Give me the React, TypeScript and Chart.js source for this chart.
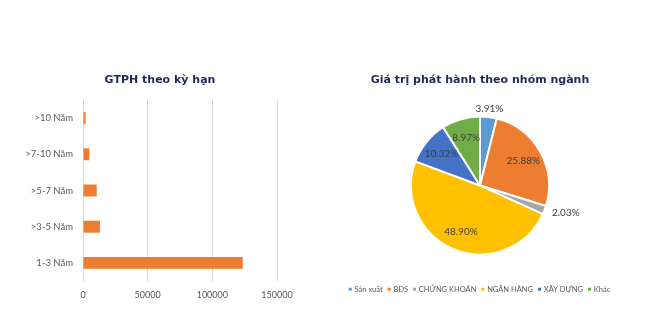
import React, { useEffect, useRef } from "react";
import { Chart, registerables } from "chart.js";
Chart.register(...registerables);

const termCategories = [">10 Năm", ">7-10 Năm", ">5-7 Năm", ">3-5 Năm", "1-3 Năm"];
const termValues = [2000, 4900, 10600, 13100, 123500];
const xMax = 150000;
const xStep = 50000;

const sectorLabels = ["Sản xuất", "BĐS", "CHỨNG KHOÁN", "NGÂN HÀNG", "XÂY DỰNG", "Khác"];
const sectorShares = [3.91, 25.88, 2.03, 48.9, 10.32, 8.97];
const sectorColors = ["#5b9bd5", "#ed7d31", "#a5a5a5", "#ffc000", "#4472c4", "#70ad47"];

const TITLE_COLOR = "#1f285a";
const TEXT_COLOR = "#595959";
const TITLE_FONT = "'DejaVu Sans'";
const BODY_FONT = "Lato";

// centre the title across the whole canvas instead of the padded box
const fullWidthTitle = {
  id: "fullWidthTitle",
  afterLayout(chart: any) {
    const t = chart.titleBlock;
    if (t) {
      t.left = 0;
      t.right = chart.width;
      t.width = chart.width;
    }
  },
};

const pieLabelPlugin = {
  id: "pieLabels",
  afterDatasetsDraw(chart: any) {
    const ctx = chart.ctx;
    const meta = chart.getDatasetMeta(0);
    const data = chart.data.datasets[0].data as number[];
    ctx.save();
    ctx.font = `10px ${BODY_FONT}`;
    ctx.fillStyle = "#404040";
    ctx.textBaseline = "middle";
    meta.data.forEach((arc: any, i: number) => {
      const p = arc.getProps(["x", "y", "startAngle", "endAngle", "outerRadius"], true);
      const mid = (p.startAngle + p.endAngle) / 2;
      const v = data[i];
      const text = v.toFixed(2) + "%";
      const c = Math.cos(mid);
      const s = Math.sin(mid);
      if (v < 5) {
        const r = p.outerRadius + 8;
        const px = p.x + c * r;
        const py = p.y + s * r;
        if (Math.abs(c) < 0.35) ctx.textAlign = "center";
        else ctx.textAlign = c > 0 ? "left" : "right";
        ctx.fillText(text, px, py);
      } else {
        const r = p.outerRadius * 0.72;
        ctx.textAlign = "center";
        ctx.fillText(text, p.x + c * r, p.y + s * r);
      }
    });
    ctx.restore();
  },
};

export default function App() {
  const barRef = useRef<HTMLCanvasElement>(null);
  const pieRef = useRef<HTMLCanvasElement>(null);

  useEffect(() => {
    const bar = new Chart(barRef.current!, {
      type: "bar",
      data: {
        labels: termCategories,
        datasets: [
          {
            data: termValues,
            backgroundColor: "#ed7d31",
            categoryPercentage: 0.5,
            barPercentage: 0.66,
          },
        ],
      },
      options: {
        indexAxis: "y",
        responsive: false,
        animation: false,
        devicePixelRatio: 1,
        layout: { padding: { left: 8, right: 43, bottom: 22, top: 0 } },
        plugins: {
          legend: { display: false },
          tooltip: { enabled: false },
          title: {
            display: true,
            text: "GTPH theo kỳ hạn",
            color: TITLE_COLOR,
            font: { family: TITLE_FONT, size: 11, weight: "bold" },
            padding: { top: 73.4, bottom: 13.4 },
          },
        },
        scales: {
          x: {
            min: 0,
            max: xMax,
            ticks: {
              stepSize: xStep,
              color: TEXT_COLOR,
              font: { family: BODY_FONT, size: 9 },
              padding: 8.6,
              maxRotation: 0,
              callback: (v: any) => String(v),
            },
            grid: { color: "#d9d9d9", drawTicks: false },
            border: { display: false },
          },
          y: {
            ticks: {
              color: TEXT_COLOR,
              font: { family: BODY_FONT, size: 9.5 },
              padding: 10,
            },
            grid: { display: false, drawTicks: false },
            border: { display: false },
            afterFit(scale: any) {
              scale.width = 75;
            },
          },
        },
      },
      plugins: [fullWidthTitle],
    });

    const baseGen = (Chart as any).overrides.doughnut.plugins.legend.labels.generateLabels;
    const pie = new Chart(pieRef.current!, {
      type: "pie",
      data: {
        labels: sectorLabels,
        datasets: [
          {
            data: sectorShares,
            backgroundColor: sectorColors,
            borderColor: "#ffffff",
            borderWidth: 2,
            radius: 69,
          } as any,
        ],
      },
      options: {
        responsive: false,
        animation: false,
        devicePixelRatio: 1,
        layout: { padding: { bottom: 28 } },
        plugins: {
          tooltip: { enabled: false },
          title: {
            display: true,
            text: "Giá trị phát hành theo nhóm ngành",
            color: TITLE_COLOR,
            font: { family: TITLE_FONT, size: 11, weight: "bold" },
            padding: { top: 73.4, bottom: 5 },
          },
          legend: {
            position: "bottom",
            labels: {
              color: TEXT_COLOR,
              font: { family: BODY_FONT, size: 7.5 },
              usePointStyle: true,
              pointStyle: "rect",
              boxWidth: 1,
              boxHeight: 3,
              padding: 6,
              generateLabels(chart: any) {
                return baseGen(chart).map((l: any) => ({ ...l, lineWidth: 0, pointStyle: "rect" }));
              },
            },
          },
        },
      },
      plugins: [pieLabelPlugin],
    });

    return () => {
      bar.destroy();
      pie.destroy();
    };
  }, []);

  return (
    <div style={{ position: "fixed", left: 0, top: 0, width: 650, height: 331, background: "#fff" }}>
      <canvas ref={barRef} width={320} height={331} style={{ position: "absolute", left: 0, top: 0 }} />
      <canvas ref={pieRef} width={320} height={331} style={{ position: "absolute", left: 320, top: 0 }} />
    </div>
  );
}
